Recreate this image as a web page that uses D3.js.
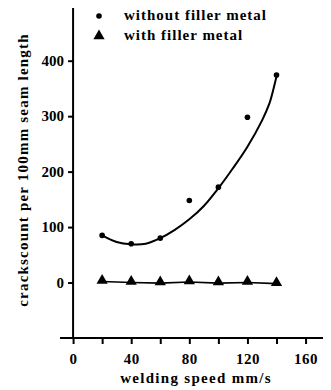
<!DOCTYPE html>
<html>
    <head>
        <script src="https://d3js.org/d3.v7.min.js"></script>
        <style>
            body{margin:0;background:#fff;}
            text{font-family:"Liberation Serif","Times New Roman",serif;font-weight:bold;fill:#000;}
        </style>
    </head>
    <body>
        <svg width="331" height="390" id="chart"></svg>
        <script>
            // measured points
            let speeds=[20,40,60,80,100,120,140];
            let withoutFiller=[85,70,80,148,172,298,374];
            let withFiller=[2,0,-1,1,-1,0,-2];
            // fitted curve
            let fitX=[20,30,40,50,60,70,80,90,100,110,120,130,135,138,140];
            let fitY=[85,73,69,70,80,95,114,138,170,206,245,292,322,350,372];
            let yTicks=[0,100,200,300,400];
            let xTicks=[0,20,40,60,80,100,120,140,160];
            let xLabels=[0,40,80,120,160];

            let svg=d3.select("#chart");

            let xScale=d3.scaleLinear().domain([-9,172]).range([60,323]);
            let yScale=d3.scaleLinear().domain([-100,495]).range([338,8]);

            // axis lines
            svg.append("line").attr("x1",xScale(0)).attr("x2",xScale(0))
                .attr("y1",yScale(495)).attr("y2",yScale(-100))
                .attr("stroke","#000").attr("stroke-width",2);
            svg.append("line").attr("x1",xScale(-9)).attr("x2",xScale(172))
                .attr("y1",yScale(-100)).attr("y2",yScale(-100))
                .attr("stroke","#000").attr("stroke-width",2);

            let yAxis=svg.append("g").attr("transform","translate("+xScale(0)+",0)")
                .call(d3.axisLeft(yScale).tickValues(yTicks).tickSize(5).tickPadding(4));
            yAxis.select(".domain").remove();
            yAxis.selectAll("line").attr("stroke-width",2);
            yAxis.selectAll("text").style("font-size","15px").attr("font-family",null);

            let xAxis=svg.append("g").attr("transform","translate(0,"+yScale(-100)+")")
                .call(d3.axisBottom(xScale).tickValues(xTicks).tickSize(6).tickPadding(9)
                    .tickFormat(d=>xLabels.includes(d)?d:""));
            xAxis.select(".domain").remove();
            xAxis.selectAll("line").attr("stroke-width",2);
            xAxis.selectAll("text").style("font-size","15px").attr("font-family",null)
                .attr("letter-spacing","0.5px");

            // axis titles
            svg.append("text").attr("x",196).attr("y",383).attr("text-anchor","middle")
                .style("font-size","15px").attr("letter-spacing","1.3px")
                .text("welding speed mm/s");
            svg.append("text").attr("transform","translate(28,170) rotate(-90)")
                .attr("text-anchor","middle").style("font-size","15px")
                .attr("letter-spacing","1.2px")
                .text("crackscount per 100mm seam length");

            // fitted curve
            let fit=fitX.map((x,i)=>[x,fitY[i]]);
            svg.append("path").datum(fit)
                .attr("fill","none").attr("stroke","#000").attr("stroke-width",2)
                .attr("d",d3.line().x(d=>xScale(d[0])).y(d=>yScale(d[1])).curve(d3.curveCatmullRom));

            svg.selectAll("circle.noFiller").data(speeds)
                .join("circle").attr("class","noFiller")
                .attr("cx",d=>xScale(d)).attr("cy",(d,i)=>yScale(withoutFiller[i]))
                .attr("r",2.8).attr("fill","#000");

            // with filler metal line + triangles
            svg.append("path").datum(speeds)
                .attr("fill","none").attr("stroke","#000").attr("stroke-width",1.6)
                .attr("d",d3.line().x(d=>xScale(d)).y((d,i)=>yScale(withFiller[i])));
            let tri=d3.symbol().type(d3.symbolTriangle).size(55);
            svg.selectAll("path.filler").data(speeds)
                .join("path").attr("class","filler")
                .attr("d",tri)
                .attr("transform",(d,i)=>"translate("+xScale(d)+","+(yScale(withFiller[i])-1)+")")
                .attr("fill","#000");

            // legend
            let legend=svg.append("g");
            legend.append("circle").attr("cx",99).attr("cy",16).attr("r",2.8).attr("fill","#000");
            legend.append("path").attr("d",d3.symbol().type(d3.symbolTriangle).size(55))
                .attr("transform","translate(99,36)").attr("fill","#000");
            legend.append("text").attr("x",124).attr("y",20).style("font-size","15px")
                .attr("letter-spacing","1px").text("without filler metal");
            legend.append("text").attr("x",124).attr("y",40).style("font-size","15px")
                .attr("letter-spacing","1px").text("with filler metal");
        </script>
    </body>
</html>
